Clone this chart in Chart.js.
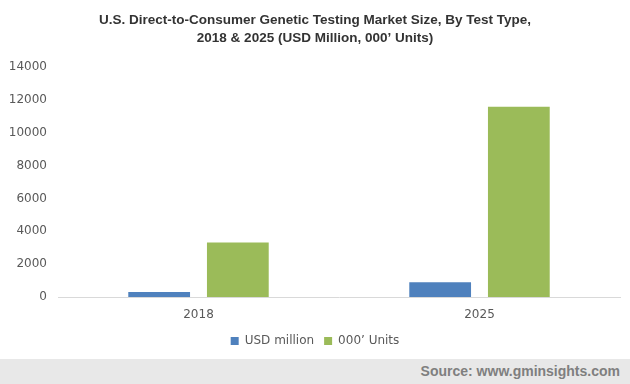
<!DOCTYPE html>
<html>
<head>
<meta charset="utf-8">
<script src="https://cdn.jsdelivr.net/npm/chart.js@4"></script>
<style>
  body { margin: 0; background: #fff; }
  #wrap { width: 630px; height: 359px; }
  #source {
    width: 630px; height: 25px; background: #e8e8e8;
    font: bold 14px "Liberation Sans", Arial, sans-serif; color: #7f7f7f;
    text-align: right; box-sizing: border-box; padding-right: 10px; line-height: 25px;
  }
</style>
</head>
<body>
<div id="wrap"><canvas id="chart" width="630" height="359"></canvas></div>
<div id="source">Source: www.gminsights.com</div>
<script>
const years = ['2018', '2025'];
const usdMillion = [300, 905];
const units = [3320, 11590];
const yTicks = [0, 2000, 4000, 6000, 8000, 10000, 12000, 14000];

const ctx = document.getElementById('chart').getContext('2d');
new Chart(ctx, {
    type: 'bar',
    data: {
        labels: years,
        datasets: [
            {
                label: 'USD million',
                data: usdMillion,
                backgroundColor: '#4f81bd',
                categoryPercentage: 0.56,
                barPercentage: 0.785
            },
            {
                label: '000\u2019 Units',
                data: units,
                backgroundColor: '#9bbb59',
                categoryPercentage: 0.56,
                barPercentage: 0.785
            }
        ]
    },
    options: {
        responsive: false,
        animation: false,
        layout: { padding: { left: 10, right: 10, top: 8, bottom: 2 } },
        plugins: {
            title: {
                display: true,
                text: ['U.S. Direct-to-Consumer Genetic Testing Market Size, By Test Type,', '2018 & 2025 (USD Million, 000\u2019 Units)'],
                color: '#333333',
                font: { family: '"Liberation Sans", Arial, sans-serif', size: 13.5, weight: 'bold', lineHeight: 1.3 },
                padding: { top: 4, bottom: 20 }
            },
            legend: {
                position: 'bottom',
                labels: {
                    color: '#595959',
                    font: { family: '"DejaVu Sans", Verdana, sans-serif', size: 12 },
                    boxWidth: 8,
                    boxHeight: 8,
                    padding: 10
                }
            },
            tooltip: { enabled: false }
        },
        scales: {
            x: {
                afterFit: axis => { axis.height = 28; },
                grid: { display: false, drawTicks: false },
                border: { color: '#d9d9d9' },
                ticks: {
                    color: '#595959',
                    padding: 11,
                    font: { family: '"DejaVu Sans", Verdana, sans-serif', size: 12 }
                }
            },
            y: {
                afterFit: axis => { axis.width = 48; },
                min: 0,
                max: 14000,
                afterBuildTicks: axis => { axis.ticks = yTicks.map(v => ({ value: v })); },
                grid: { display: false, drawTicks: false },
                border: { display: false },
                ticks: {
                    color: '#595959',
                    padding: 11,
                    callback: v => String(v),
                    font: { family: '"DejaVu Sans", Verdana, sans-serif', size: 12 }
                }
            }
        }
    }
});
</script>
</body>
</html>
